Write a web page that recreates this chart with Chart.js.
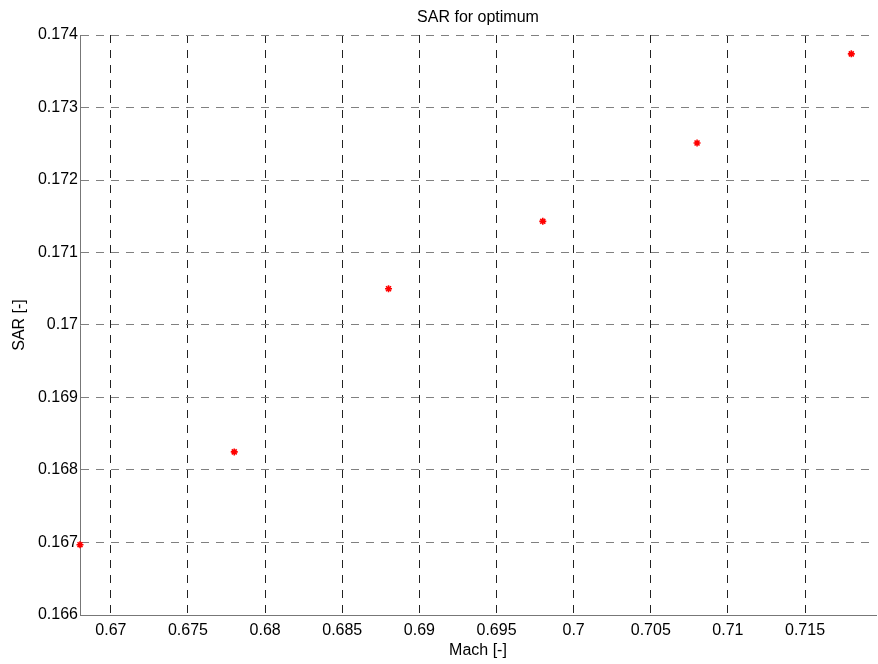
<!DOCTYPE html>
<html>
<head>
<meta charset="utf-8">
<script src="https://cdn.jsdelivr.net/npm/chart.js@4/dist/chart.umd.min.js"></script>
<style>
  html, body { margin: 0; padding: 0; background: #fff; }
  #wrap { width: 878px; height: 664px; position: relative; }
</style>
</head>
<body>
<div id="wrap"><canvas id="sarChart"></canvas></div>
<script>
// data
const mach = [0.668, 0.678, 0.688, 0.698, 0.708, 0.718];
const sar = [0.16697, 0.16825, 0.17050, 0.17143, 0.17251, 0.17374];
const xTickLabels = ['0.67', '0.675', '0.68', '0.685', '0.69', '0.695', '0.7', '0.705', '0.71', '0.715'];
const yTickLabels = ['0.166', '0.167', '0.168', '0.169', '0.17', '0.171', '0.172', '0.173', '0.174'];

const fontFam = '"Liberation Sans", Arial, Helvetica, sans-serif';

const titlePlugin = {
    id: 'plotTitle',
    afterDraw(chart) {
        const c = chart.ctx;
        const a = chart.chartArea;
        c.save();
        c.font = '16px ' + fontFam;
        c.fillStyle = '#000';
        c.textAlign = 'center';
        c.textBaseline = 'middle';
        c.fillText('SAR for optimum', (a.left + a.right) / 2, 18);
        c.restore();
    }
};

const ctx = document.getElementById('sarChart').getContext('2d');
const sarChart = new Chart(ctx, {
    type: 'scatter',
    data: {
        datasets: [{
            label: 'SAR',
            data: mach.map((m, i) => ({ x: m, y: sar[i] })),
            pointStyle: 'star',
            pointRadius: 3.5,
            pointBorderWidth: 1.6,
            borderColor: '#ff0000',
            backgroundColor: '#ff0000',
            showLine: false,
            clip: false
        }]
    },
    plugins: [titlePlugin],
    options: {
        responsive: true,
        maintainAspectRatio: false,
        animation: false,
        layout: { autoPadding: false, padding: { top: 35, right: 2, left: 0, bottom: 0 } },
        plugins: {
            legend: { display: false },
            tooltip: { enabled: false }
        },
        scales: {
            x: {
                type: 'linear',
                min: 0.668,
                max: 0.7196,
                afterBuildTicks: s => { s.ticks = xTickLabels.map(t => ({ value: parseFloat(t) })); },
                afterFit: s => { s.height = 49; },
                ticks: {
                    autoSkip: false,
                    maxRotation: 0,
                    padding: 6,
                    color: '#000',
                    font: { family: fontFam, size: 16 },
                    callback: (v, i) => xTickLabels[i]
                },
                grid: { color: '#222', lineWidth: 1, drawTicks: false },
                border: { display: true, color: '#777', width: 1, dash: [8, 7] },
                title: {
                    display: true,
                    text: 'Mach [-]',
                    color: '#000',
                    font: { family: fontFam, size: 16 },
                    padding: { top: 0, bottom: 4 }
                }
            },
            y: {
                type: 'linear',
                min: 0.166,
                max: 0.174,
                afterBuildTicks: s => { s.ticks = yTickLabels.map(t => ({ value: parseFloat(t) })); },
                afterFit: s => { s.width = 80; },
                ticks: {
                    autoSkip: false,
                    padding: 2,
                    color: '#000',
                    font: { family: fontFam, size: 16 },
                    callback: (v, i) => yTickLabels[i]
                },
                grid: { color: '#808080', lineWidth: 1, drawTicks: false },
                border: { display: true, color: '#777', width: 1, dash: [8, 7] },
                title: {
                    display: true,
                    text: 'SAR [-]',
                    color: '#000',
                    font: { family: fontFam, size: 16 },
                    padding: { top: 10, bottom: 0 }
                }
            }
        }
    }
});
</script>
</body>
</html>
